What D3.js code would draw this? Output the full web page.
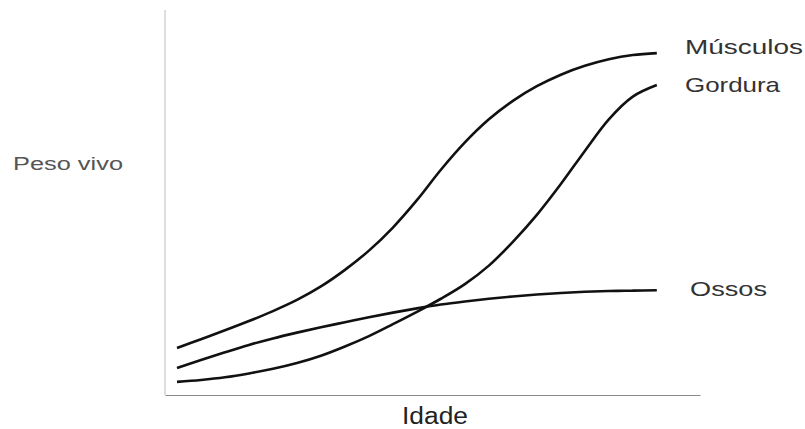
<!DOCTYPE html>
<html lang="pt">
<head>
    <meta charset="UTF-8">
    <title>Peso vivo x Idade</title>
    <script src="https://cdnjs.cloudflare.com/ajax/libs/d3/7.8.5/d3.min.js"></script>
    <style>
        body {
            margin: 0;
            background: #fff;
            font-family: 'Liberation Sans', Arial, sans-serif;
        }
        svg { display: block; }
    </style>
</head>
<body>
    <div id="chart"></div>

    <script>
        // Age steps (arbitrary units) and relative weight for each tissue
        const idade = [0, 0.5, 1, 1.5, 2, 2.5, 3, 3.5, 4, 4.5, 5, 5.5, 6, 6.5, 7, 7.5, 8, 8.5, 9, 9.5, 10];
        const musculos = [12.2, 14.5, 16.8, 19.2, 21.8, 24.7, 28.2, 32.5, 37.5, 43.5, 50.6,
                          58.5, 65.6, 71.6, 76.4, 80.2, 83.2, 85.5, 87.2, 88.3, 88.8];
        const gordura = [3.4, 3.9, 4.6, 5.6, 6.8, 8.3, 10.2, 12.6, 15.3, 18.4, 21.6,
                         25.0, 28.8, 33.6, 39.8, 46.8, 54.8, 63.4, 71.6, 77.5, 80.5];
        const ossos = [7.0, 9.1, 11.1, 13.0, 14.7, 16.2, 17.6, 18.9, 20.2, 21.4, 22.5,
                       23.5, 24.3, 25.0, 25.6, 26.1, 26.5, 26.8, 27.0, 27.1, 27.2];

        const seriesNames = ['Músculos', 'Gordura', 'Ossos'];
        const seriesValues = [musculos, gordura, ossos];

        const width = 805, height = 429;

        const svg = d3.select('#chart').append('svg')
            .attr('width', width)
            .attr('height', height);

        // axes run a bit past the data on both sides
        const x = d3.scaleLinear().domain([-0.25, 10.9]).range([165, 700]);
        const y = d3.scaleLinear().domain([0, 100]).range([395, 10]);

        // y axis: faint grey line, no ticks
        svg.append('line')
            .attr('x1', x(-0.25)).attr('x2', x(-0.25))
            .attr('y1', y(100)).attr('y2', y(0))
            .attr('stroke', '#c8c8c8')
            .attr('stroke-width', 1.2);

        // x axis
        const xAxis = d3.axisBottom(x).ticks(0).tickSize(0).tickSizeOuter(0);
        const gx = svg.append('g')
            .attr('transform', `translate(0,${y(0)})`)
            .call(xAxis);
        gx.select('.domain')
            .attr('stroke', '#8a8a8a')
            .attr('stroke-width', 1.2);

        const line = d3.line()
            .x((d, i) => x(idade[i]))
            .y(d => y(d))
            .curve(d3.curveCatmullRom.alpha(0.5));

        svg.selectAll('.serie')
            .data(seriesValues)
            .enter()
            .append('path')
            .attr('class', 'serie')
            .attr('d', line)
            .attr('fill', 'none')
            .attr('stroke', '#111')
            .attr('stroke-width', 2.6);

        // labels next to the ends of the curves
        const labelDy = [1, 7, 6];
        const labelW = [118, 95, 77];
        seriesValues.forEach((vals, k) => {
            svg.append('text')
                .attr('x', k === 2 ? 690 : 685)
                .attr('y', y(vals[vals.length - 1]) + labelDy[k])
                .attr('font-size', 21)
                .attr('fill', '#333')
                .attr('textLength', labelW[k])
                .attr('lengthAdjust', 'spacingAndGlyphs')
                .text(seriesNames[k]);
        });

        svg.append('text')
            .attr('x', 402)
            .attr('y', 424)
            .attr('font-size', 23)
            .attr('fill', '#222')
            .attr('textLength', 66)
            .attr('lengthAdjust', 'spacingAndGlyphs')
            .text('Idade');

        svg.append('text')
            .attr('x', 13)
            .attr('y', 170)
            .attr('font-size', 18)
            .attr('fill', '#555')
            .attr('textLength', 110)
            .attr('lengthAdjust', 'spacingAndGlyphs')
            .text('Peso vivo');
    </script>
</body>
</html>
